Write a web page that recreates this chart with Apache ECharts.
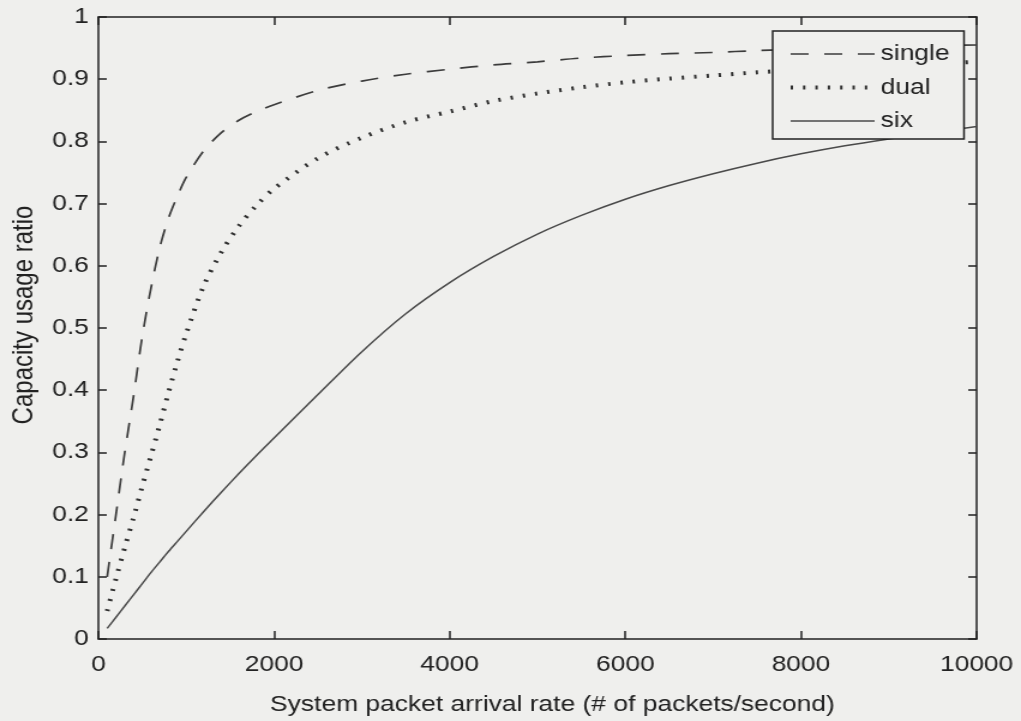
<!DOCTYPE html>
<html>
<head>
<meta charset="utf-8">
<script src="https://cdn.jsdelivr.net/npm/echarts@6/dist/echarts.min.js"></script>
<style>
  html, body { margin: 0; padding: 0; background: #efefed; overflow: hidden; }
  /* the figure is laid out at its native aspect and widened to fill the page */
  #chart { width: 851px; height: 721px; transform: scaleX(1.19977); transform-origin: 0 0; }
</style>
</head>
<body>
<div id="chart"></div>
<script>
// System packet arrival rate (# of packets/second)
const rates = [100, 200, 300, 400, 500, 600, 700, 800, 900, 1000,
               1200, 1400, 1600, 1800, 2000, 2500, 3000, 3500, 4000, 4500,
               5000, 5500, 6000, 6500, 7000, 7500, 8000, 8500, 9000, 9500, 10000];

// Capacity usage ratio for each configuration
const single = [0.100, 0.200, 0.300, 0.390, 0.487, 0.565, 0.630, 0.677, 0.712, 0.742,
                0.785, 0.814, 0.834, 0.848, 0.859, 0.882, 0.897, 0.908, 0.916, 0.923,
                0.928, 0.934, 0.938, 0.941, 0.943, 0.946, 0.948, 0.950, 0.952, 0.954, 0.955];
const dual   = [0.045, 0.097, 0.147, 0.195, 0.246, 0.295, 0.345, 0.397, 0.446, 0.491,
                0.568, 0.622, 0.664, 0.697, 0.724, 0.773, 0.806, 0.831, 0.848, 0.865,
                0.877, 0.887, 0.895, 0.901, 0.906, 0.911, 0.915, 0.919, 0.922, 0.925, 0.928];
const six    = [0.017, 0.035, 0.053, 0.071, 0.089, 0.107, 0.124, 0.141, 0.157, 0.173,
                0.205, 0.236, 0.266, 0.295, 0.323, 0.393, 0.462, 0.523, 0.573, 0.615,
                0.651, 0.681, 0.707, 0.729, 0.748, 0.765, 0.780, 0.793, 0.804, 0.814, 0.824];

const seriesNames = ['single', 'dual', 'six'];
const xRange = [0, 10000, 2000];   // min, max, step
const yRange = [0, 1, 0.1];

const ink = '#222222';
const font = "'Liberation Sans', Arial, sans-serif";

const pairs = vals => rates.map((r, i) => [r, vals[i]]);

// every side of the box is an axis line with inward ticks
const frame = (tickLen) => ({
  axisLine: { show: true, onZero: false, lineStyle: { color: ink, width: 1.5 } },
  axisTick: { show: true, inside: true, length: tickLen, lineStyle: { color: ink, width: 1.5 } },
  splitLine: { show: false }
});

const curve = (name, vals, lineStyle) => ({
  name, type: 'line', data: pairs(vals),
  symbol: 'none', smooth: 0.3,
  lineStyle
});

const chart = echarts.init(document.getElementById('chart'), null, { renderer: 'canvas' });
chart.setOption({
  animation: false,
  backgroundColor: '#efefed',
  textStyle: { fontFamily: font },
  grid: { left: 81, right: 37, top: 17, bottom: 79, containLabel: false },
  legend: {
    data: seriesNames,
    orient: 'vertical',
    left: 644,
    top: 31,
    padding: [12, 12, 7, 13],
    itemWidth: 70,
    itemHeight: 14,
    itemGap: 11.5,
    backgroundColor: '#efefed',
    borderColor: ink,
    borderWidth: 1.5,
    borderRadius: 0,
    itemStyle: { opacity: 0, borderWidth: 0 },
    lineStyle: { width: 'inherit', type: 'inherit', color: 'inherit' },
    textStyle: { fontSize: 22, color: ink, fontFamily: font, lineHeight: 22 }
  },
  xAxis: [
    Object.assign(frame(8), {
      type: 'value', position: 'bottom',
      min: xRange[0], max: xRange[1], interval: xRange[2],
      axisLabel: { fontSize: 22, color: ink, margin: 15, fontFamily: font, formatter: v => String(v) },
      name: 'System packet arrival rate (# of packets/second)',
      nameLocation: 'middle',
      nameGap: 55,
      nameTextStyle: { fontSize: 22, color: ink, fontFamily: font, padding: [0, 0, 0, 25] }
    }),
    Object.assign(frame(8), {
      type: 'value', position: 'top',
      min: xRange[0], max: xRange[1], interval: xRange[2],
      axisLabel: { show: false }
    })
  ],
  yAxis: [
    Object.assign(frame(7), {
      type: 'value', position: 'left',
      min: yRange[0], max: yRange[1], interval: yRange[2],
      axisLabel: { fontSize: 22, color: ink, margin: 8, fontFamily: font },
      name: 'Capacity usage ratio',
      nameLocation: 'middle',
      nameGap: 50,
      nameTextStyle: { fontSize: 24, color: ink, fontFamily: font, padding: [0, 0, 0, 26] }
    }),
    Object.assign(frame(7), {
      type: 'value', position: 'right',
      min: yRange[0], max: yRange[1], interval: yRange[2],
      axisLabel: { show: false }
    })
  ],
  series: [
    curve(seriesNames[0], single, { color: '#3c3c3c', width: 1.7, type: [15, 13], cap: 'butt' }),
    curve(seriesNames[1], dual,   { color: '#303030', width: 4, type: [2, 8.3], cap: 'butt' }),
    curve(seriesNames[2], six,    { color: '#4a4a4a', width: 1.5, type: 'solid' })
  ]
});
</script>
</body>
</html>
